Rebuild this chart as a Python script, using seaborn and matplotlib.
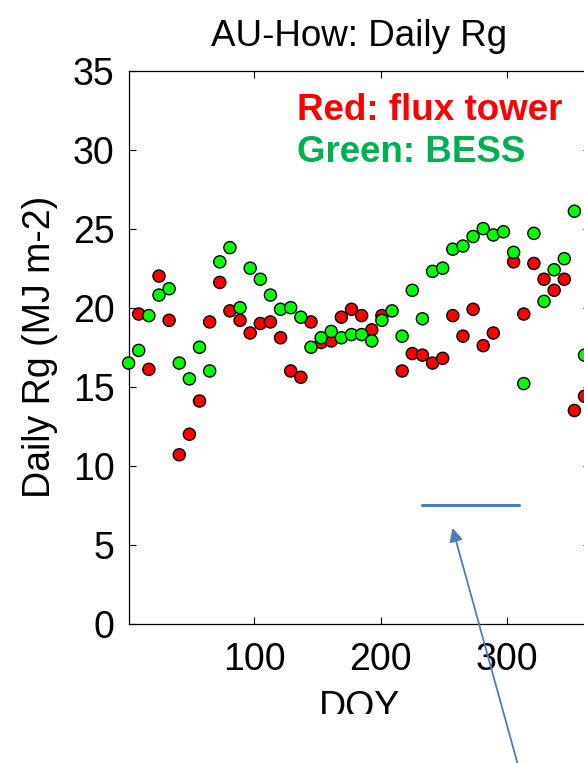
import numpy as np
import pandas as pd
import matplotlib
matplotlib.use("Agg")
import matplotlib.pyplot as plt
from matplotlib.patches import Rectangle, FancyArrowPatch
from matplotlib.lines import Line2D
import seaborn as sns

# 8-day composite days of year
doy = [1, 9, 17, 25, 33, 41, 49, 57, 65, 73, 81, 89, 97, 105, 113, 121,
       129, 137, 145, 153, 161, 169, 177, 185, 193, 201, 209, 217, 225, 233,
       241, 249, 257, 265, 273, 281, 289, 297, 305, 313, 321, 329, 337, 345,
       353, 361]

# Daily Rg (MJ m-2) measured at the flux tower
tower_rg = [np.nan, 19.6, 16.1, 22.0, 19.2, 10.7, 12.0, 14.1, 19.1, 21.6,
            19.8, 19.2, 18.4, 19.0, 19.1, 18.1, 16.0, 15.6, 19.1, 17.8,
            17.9, 19.4, 19.9, 19.5, 18.6, 19.5, np.nan, 16.0, 17.1, 17.0,
            16.5, 16.8, 19.5, 18.2, 19.9, 17.6, 18.4, np.nan, 22.9, 19.6,
            22.8, 21.8, 21.1, 21.8, 13.5, 14.4]

# Daily Rg (MJ m-2) estimated by BESS
bess_rg = [16.5, 17.3, 19.5, 20.8, 21.2, 16.5, 15.5, 17.5, 16.0, 22.9,
           23.8, 20.0, 22.5, 21.8, 20.8, 19.9, 20.0, 19.4, 17.5, 18.1,
           18.5, 18.1, 18.3, 18.3, 17.9, 19.2, 19.8, 18.2, 21.1, 19.3,
           22.3, 22.5, 23.7, 23.9, 24.5, 25.0, 24.6, 24.8, 23.5, 15.2,
           24.7, 20.4, 22.4, 23.1, 26.1, 17.0]

sources = ["flux tower", "BESS"]
source_colors = {"flux tower": "#ff0000", "BESS": "#00ff00"}

df = pd.concat([
    pd.DataFrame({"DOY": doy, "Rg": tower_rg, "source": sources[0]}),
    pd.DataFrame({"DOY": doy, "Rg": bess_rg, "source": sources[1]}),
], ignore_index=True).dropna()

sns.set_style("ticks")
plt.rcParams["font.family"] = ["Liberation Sans", "DejaVu Sans"]
plt.rcParams["text.color"] = "black"
plt.rcParams["axes.labelcolor"] = "black"

W, H = 584, 763
fig = plt.figure(figsize=(W / 100, H / 100), dpi=100)
ax = fig.add_axes([0.2202, 0.1822, 0.7894, 0.7254])

sns.scatterplot(data=df, x="DOY", y="Rg", hue="source", palette=source_colors,
                s=76, edgecolor="black", linewidth=1.0, legend=False, ax=ax,
                clip_on=False, zorder=3)

ax.set_xlim(1, 365)
ax.set_ylim(0, 35)
ax.set_xticks([100, 200, 300])
ax.set_yticks(np.arange(0, 36, 5))

for side in ["left", "right", "top", "bottom"]:
    ax.spines[side].set_visible(True)
    ax.spines[side].set_linewidth(0.9)
    ax.spines[side].set_color("black")

ax.tick_params(axis="both", direction="in", length=5, width=0.8,
               top=True, right=True, labelsize=27, colors="black")
ax.tick_params(axis="y", pad=10)
ax.tick_params(axis="x", pad=13)

ax.set_title("AU-How: Daily Rg", fontsize=26.5, pad=18, color="black")
ax.set_xlabel("DOY", fontsize=27)
ax.set_ylabel("Daily Rg (MJ m-2)", fontsize=27)
ax.xaxis.set_label_coords(0.5, -0.119)
ax.yaxis.set_label_coords(-0.153, 0.5)

ax.text(0.365, 0.9106, "Red: flux tower", transform=ax.transAxes,
        color="#ff0000", fontsize=26.5, fontweight="bold", va="baseline")
ax.text(0.365, 0.8347, "Green: BESS", transform=ax.transAxes,
        color="#00b050", fontsize=26.5, fontweight="bold", va="baseline")

# white band across the bottom, trimming the x label
fig.add_artist(Rectangle((0, 0), 1, (H - 714) / H, transform=fig.transFigure,
                         facecolor="white", edgecolor="none", zorder=5))

# blue marker line and pointer arrow
blue = "#4a7ebb"
fig.add_artist(Line2D([422 / W, 519 / W], [1 - 505 / H, 1 - 505 / H],
                      transform=fig.transFigure, color=blue, lw=2.2, zorder=6))
fig.add_artist(FancyArrowPatch((519.5 / W, -0.01), (452.5 / W, 1 - 528 / H),
                               transform=fig.transFigure, arrowstyle="-|>",
                               mutation_scale=20, color=blue, lw=1.3,
                               shrinkA=0, shrinkB=0, zorder=6))

fig.savefig("out.png", dpi=100, facecolor="white")
